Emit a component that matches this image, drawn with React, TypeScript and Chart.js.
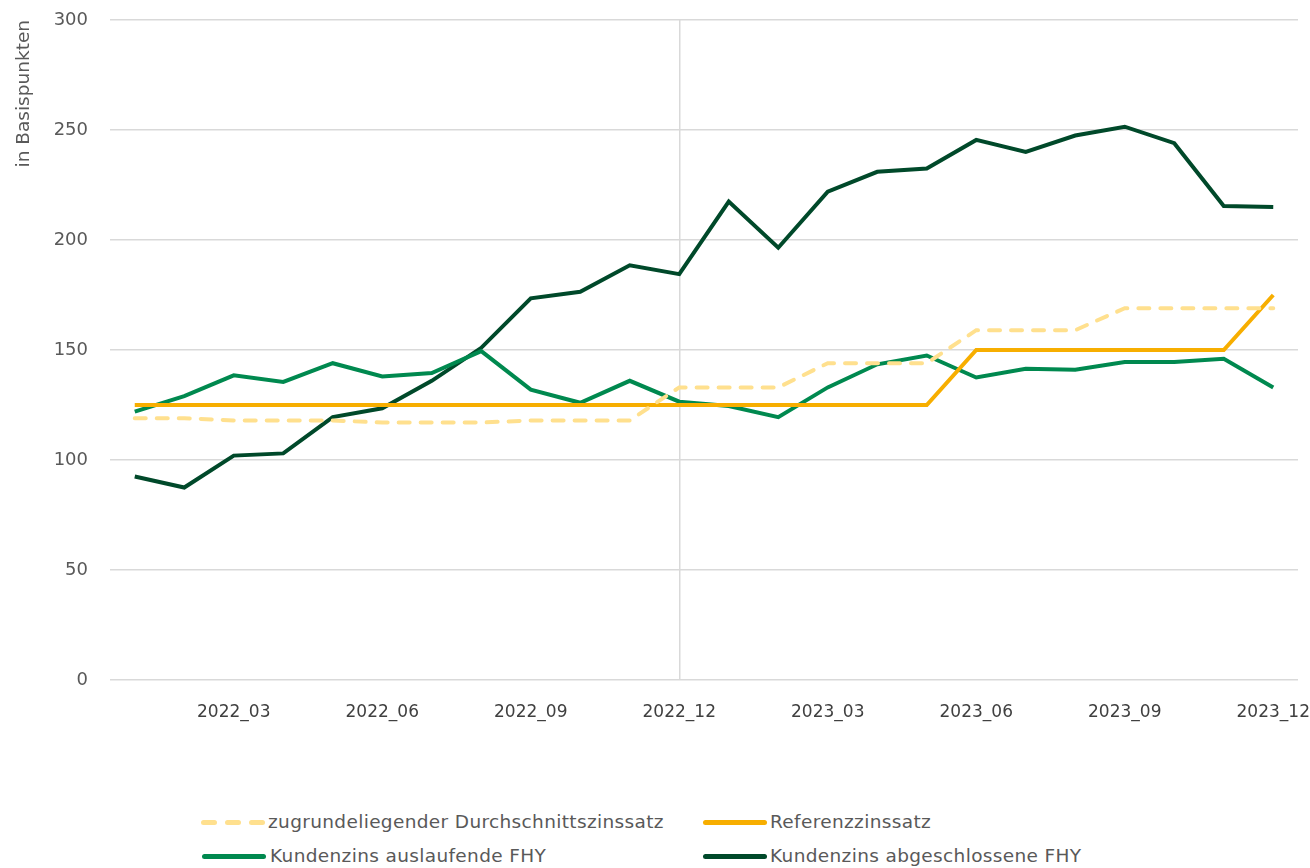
import React, { useEffect, useRef } from "react";
import { Chart, registerables } from "chart.js";

Chart.register(...registerables);

const months = [
  "2022_01", "2022_02", "2022_03", "2022_04", "2022_05", "2022_06",
  "2022_07", "2022_08", "2022_09", "2022_10", "2022_11", "2022_12",
  "2023_01", "2023_02", "2023_03", "2023_04", "2023_05", "2023_06",
  "2023_07", "2023_08", "2023_09", "2023_10", "2023_11", "2023_12",
];

const durchschnitt = [
  119, 119, 118, 118, 118, 117, 117, 117, 118, 118, 118, 133,
  133, 133, 144, 144, 144, 159, 159, 159, 169, 169, 169, 169,
];

const referenz = [
  125, 125, 125, 125, 125, 125, 125, 125, 125, 125, 125, 125,
  125, 125, 125, 125, 125, 150, 150, 150, 150, 150, 150, 175,
];

const auslaufend = [
  122, 129, 138.5, 135.5, 144, 138, 139.5, 149.5, 132, 126, 136, 126.5,
  124.5, 119.5, 133, 143.5, 147.5, 137.5, 141.5, 141, 144.5, 144.5, 146, 133,
];

const abgeschlossen = [
  92.5, 87.5, 102, 103, 119.5, 123.5, 136, 151, 173.5, 176.5, 188.5, 184.5,
  217.5, 196.5, 222, 231, 232.5, 245.5, 240, 247.5, 251.5, 244, 215.5, 215,
];

const yTicks = [0, 50, 100, 150, 200, 250, 300];

const C_DURCH = "#FFE08E";
const C_REF = "#F7AE00";
const C_AUS = "#00894F";
const C_ABG = "#00492A";

const FONT = "'DejaVu Sans', 'Open Sans', sans-serif";

export default function App() {
  const ref = useRef<HTMLCanvasElement | null>(null);

  useEffect(() => {
    if (!ref.current) return;
    const chart = new Chart(ref.current, {
      type: "line",
      data: {
        labels: months,
        datasets: [
          {
            label: "zugrundeliegender Durchschnittszinssatz",
            data: durchschnitt,
            borderColor: C_DURCH,
            borderWidth: 4,
            borderDash: [11, 11],
            borderCapStyle: "round",
            pointRadius: 0,
            tension: 0,
          },
          {
            label: "Referenzzinssatz",
            data: referenz,
            borderColor: C_REF,
            borderWidth: 4,
            pointRadius: 0,
            tension: 0,
          },
          {
            label: "Kundenzins auslaufende FHY",
            data: auslaufend,
            borderColor: C_AUS,
            borderWidth: 4,
            pointRadius: 0,
            tension: 0,
          },
          {
            label: "Kundenzins abgeschlossene FHY",
            data: abgeschlossen,
            borderColor: C_ABG,
            borderWidth: 4,
            pointRadius: 0,
            tension: 0,
          },
        ],
      },
      options: {
        animation: false,
        responsive: true,
        maintainAspectRatio: false,
        layout: { padding: { top: 20, right: 12, left: 0, bottom: 0 } },
        plugins: {
          legend: { display: false },
          tooltip: { enabled: false },
        },
        scales: {
          x: {
            type: "category",
            offset: true,
            border: { display: false },
            grid: {
              offset: false,
              drawTicks: false,
              color: (ctx: any) => (ctx.index === 11 ? "#d9d9d9" : "rgba(0,0,0,0)"),
              lineWidth: 1.5,
            },
            ticks: {
              autoSkip: false,
              maxRotation: 0,
              minRotation: 0,
              padding: 22,
              color: "#404040",
              font: { family: FONT, size: 17 },
              callback: (_v: any, i: number) => (i % 3 === 2 ? months[i] : ""),
            },
            afterFit: (s: any) => {
              s.height = 60;
              s.paddingLeft = 0;
              s.paddingRight = 0;
            },
          },
          y: {
            min: 0,
            max: 300,
            border: { display: false },
            grid: { color: "#d9d9d9", lineWidth: 1.5, drawTicks: false },
            afterBuildTicks: (s: any) => {
              s.ticks = yTicks.map((v) => ({ value: v }));
            },
            ticks: {
              padding: 22,
              color: "#595959",
              font: { family: FONT, size: 18 },
            },
            title: {
              display: true,
              text: "in Basispunkten",
              align: "end",
              color: "#595959",
              font: { family: FONT, size: 18.5 },
              padding: { top: 13, bottom: 0 },
            },
            afterFit: (s: any) => {
              s.width = 110;
              s.paddingTop = 0;
              s.paddingBottom = 0;
            },
          },
        },
      },
    });
    return () => chart.destroy();
  }, []);

  const textStyle: React.CSSProperties = {
    position: "absolute",
    fontFamily: FONT,
    fontSize: 18.5,
    letterSpacing: "0.35px",
    color: "#595959",
    whiteSpace: "nowrap",
    lineHeight: "24px",
  };

  const solid = (left: number, top: number, color: string) => (
    <div
      style={{
        position: "absolute",
        left,
        top,
        width: 64,
        height: 5,
        borderRadius: 3,
        background: color,
      }}
    />
  );

  const dashed = (left: number, top: number) => (
    <>
      {[0, 24, 48].map((dx) => (
        <div
          key={dx}
          style={{
            position: "absolute",
            left: left + dx,
            top,
            width: 16,
            height: 5,
            borderRadius: 3,
            background: C_DURCH,
          }}
        />
      ))}
    </>
  );

  return (
    <div
      style={{
        position: "absolute",
        left: 0,
        top: 0,
        width: 1310,
        height: 868,
        background: "#ffffff",
        overflow: "hidden",
      }}
    >
      <div style={{ position: "absolute", left: 0, top: 0, width: 1310, height: 740 }}>
        <canvas ref={ref} />
      </div>
      {dashed(201, 820)}
      <div style={{ ...textStyle, left: 268, top: 810 }}>zugrundeliegender Durchschnittszinssatz</div>
      {solid(703, 820, C_REF)}
      <div style={{ ...textStyle, left: 770, top: 810 }}>Referenzzinssatz</div>
      {solid(202, 854, C_AUS)}
      <div style={{ ...textStyle, left: 270, top: 844 }}>Kundenzins auslaufende FHY</div>
      {solid(703, 854, C_ABG)}
      <div style={{ ...textStyle, left: 770, top: 844 }}>Kundenzins abgeschlossene FHY</div>
    </div>
  );
}
